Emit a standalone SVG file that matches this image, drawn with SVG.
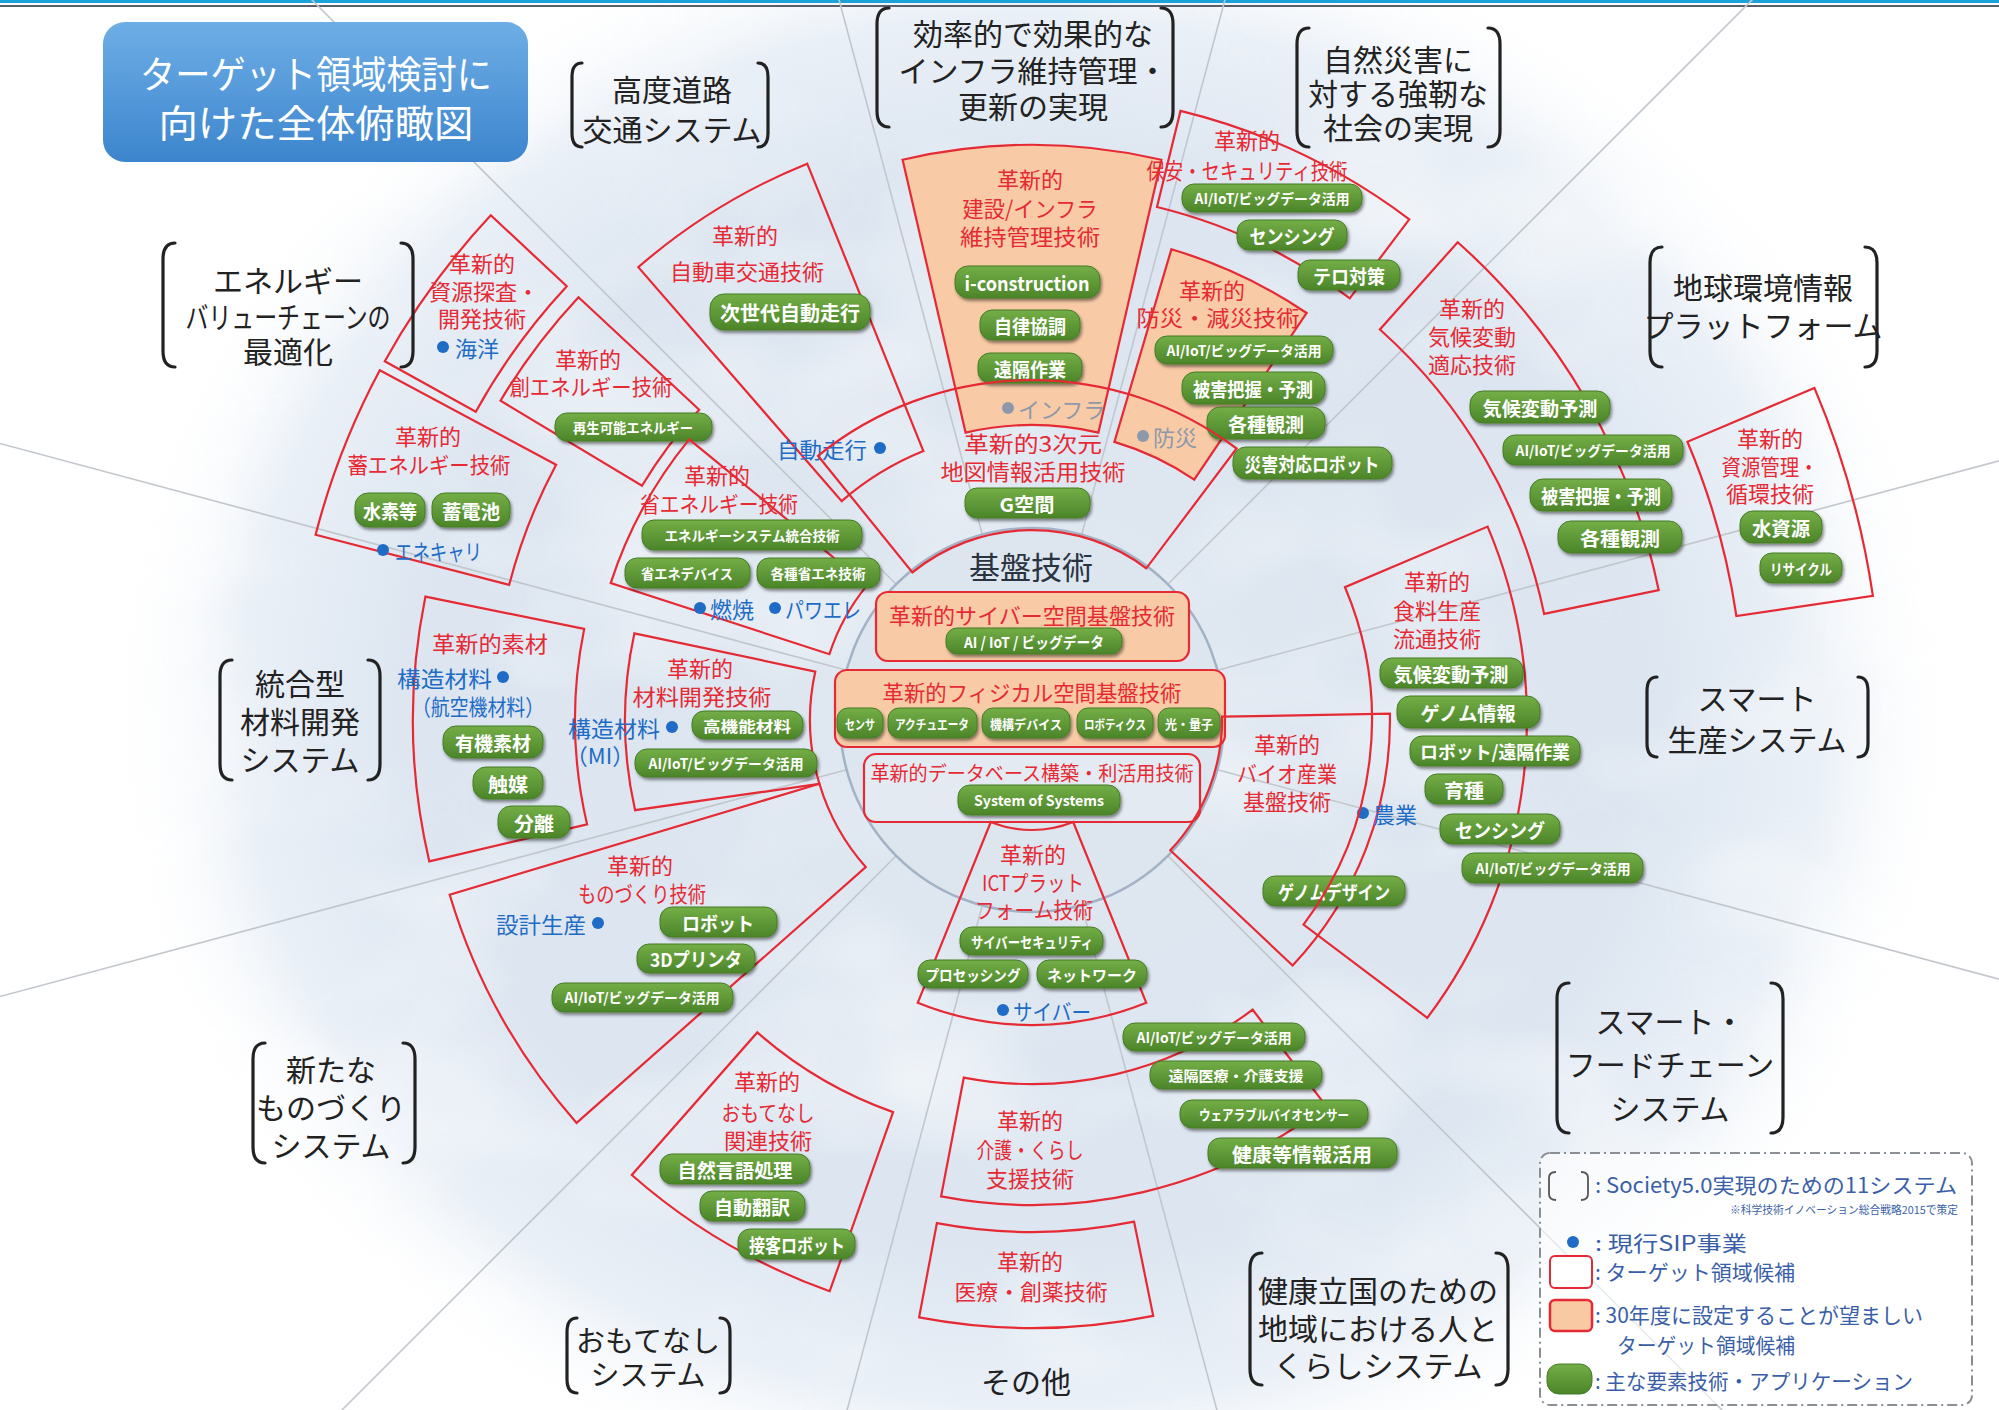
<svg xmlns="http://www.w3.org/2000/svg" width="1999" height="1410" viewBox="0 0 1999 1410">
<defs>
<style>
text{font-family:"Noto Sans CJK JP","Noto Sans",sans-serif;dominant-baseline:central}
.reg{fill:none;stroke:#e62a34;stroke-width:2.2}
.hot{fill:#f8cba6;stroke:#e62a34;stroke-width:2.2}
.rl{fill:#e62a34;font-size:22px;text-anchor:middle}
.cat{fill:#222;font-size:30px;text-anchor:middle}
.brk{fill:none;stroke:#222;stroke-width:3.2;stroke-linecap:round}
.pill rect{fill:url(#pillG);stroke:#467d27;stroke-width:1;filter:url(#sh)}
.pill text{fill:#fff;font-weight:bold;text-anchor:middle}
.sip{fill:#1e6cc6;font-size:22px}
.dot{fill:#1e6cc6}
.gry{fill:#8d99aa;font-size:22px}
.gdot{fill:#8d99aa}
.ray{stroke:#c2c7cd;stroke-width:1.6}
.lg{fill:#3a5fa8;font-size:21px}
.note{fill:#3a5fa8;font-size:11px;text-anchor:end}
</style>
<radialGradient id="haze" cx="0.5" cy="0.5" r="0.5">
<stop offset="0" stop-color="#e0e8f1"/>
<stop offset="0.65" stop-color="#dce5f0"/>
<stop offset="0.85" stop-color="#eaf0f7"/>
<stop offset="1" stop-color="#ffffff" stop-opacity="0"/>
</radialGradient>
<linearGradient id="pillG" x1="0" y1="0" x2="0" y2="1">
<stop offset="0" stop-color="#74ae47"/>
<stop offset="1" stop-color="#4b8529"/>
</linearGradient>
<linearGradient id="titleG" x1="0" y1="0" x2="0" y2="1">
<stop offset="0" stop-color="#6eaee6"/>
<stop offset="1" stop-color="#3c85cd"/>
</linearGradient>
<filter id="sh" x="-20%" y="-30%" width="140%" height="170%">
<feDropShadow dx="1.5" dy="2.5" stdDeviation="1.6" flood-color="#000" flood-opacity="0.45"/>
</filter>
<!-- mottled white clouds over the blue haze -->
<filter id="cloud" x="0" y="0" width="100%" height="100%">
<feTurbulence type="fractalNoise" baseFrequency="0.004 0.006" numOctaves="3" seed="7"/>
<feColorMatrix type="matrix" values="0 0 0 0 1  0 0 0 0 1  0 0 0 0 1  0 0 0 2.2 -1.0"/>
</filter>
</defs>

<!-- page background and soft blue haze -->
<rect width="1999" height="1410" fill="#ffffff"/>
<ellipse cx="1032" cy="710" rx="930" ry="820" fill="url(#haze)"/>
<rect width="1999" height="1410" filter="url(#cloud)" opacity="0.55"/>

<!-- top rule -->
<rect x="0" y="0" width="1999" height="3" fill="#1ba3d9"/>
<rect x="0" y="5" width="1999" height="2" fill="#5a5f66"/>

<!-- sector dividers -->
<g id="connectors">
<line class="ray" x1="1217.5" y1="769.7" x2="2480.9" y2="1108.2"/>
<line class="ray" x1="1167.8" y1="855.8" x2="2092.7" y2="1780.7"/>
<line class="ray" x1="1081.7" y1="905.5" x2="1420.2" y2="2168.9"/>
<line class="ray" x1="982.3" y1="905.5" x2="643.8" y2="2168.9"/>
<line class="ray" x1="896.2" y1="855.8" x2="-28.7" y2="1780.7"/>
<line class="ray" x1="846.5" y1="769.7" x2="-416.9" y2="1108.2"/>
<line class="ray" x1="846.5" y1="670.3" x2="-416.9" y2="331.8"/>
<line class="ray" x1="896.2" y1="584.2" x2="-28.7" y2="-340.7"/>
<line class="ray" x1="982.3" y1="534.5" x2="643.8" y2="-728.9"/>
<line class="ray" x1="1081.7" y1="534.5" x2="1420.2" y2="-728.9"/>
<line class="ray" x1="1167.8" y1="584.2" x2="2092.7" y2="-340.7"/>
<line class="ray" x1="1217.5" y1="670.3" x2="2480.9" y2="331.8"/>
</g>

<!-- title -->
<g id="title">
<rect x="103" y="22" width="425" height="140" rx="22" fill="url(#titleG)"/>
<text x="316" y="71" fill="#fff" font-size="38" text-anchor="middle" textLength="352" lengthAdjust="spacingAndGlyphs">ターゲット領域検討に</text>
<text x="316" y="120" fill="#fff" font-size="38" text-anchor="middle" textLength="315" lengthAdjust="spacingAndGlyphs">向けた全体俯瞰図</text>
</g>

<!-- priority (orange) regions drawn first -->
<g id="infra">
<path class="hot" d="M902.6,159.7 A575,575 0 0 1 1161.4,159.7 L1098.4,432.6 A295,295 0 0 0 965.6,432.6 Z"/>
<text class="rl" x="1030" y="178">革新的</text>
<text class="rl" x="1030" y="207" textLength="135" lengthAdjust="spacingAndGlyphs">建設/インフラ</text>
<text class="rl" x="1030" y="235" textLength="140" lengthAdjust="spacingAndGlyphs">維持管理技術</text>
<circle class="gdot" cx="1008" cy="408" r="6"/>
<text class="gry" x="1018" y="408">インフラ</text>
<g class="pill"><rect x="955" y="266" width="145" height="32" rx="13"/><text x="1027" y="282" font-size="20" textLength="125" lengthAdjust="spacingAndGlyphs">i-construction</text></g>
<g class="pill"><rect x="980" y="310" width="100" height="30" rx="12"/><text x="1030" y="325" font-size="19" textLength="72" lengthAdjust="spacingAndGlyphs">自律協調</text></g>
<g class="pill"><rect x="978" y="353" width="104" height="30" rx="12"/><text x="1030" y="368" font-size="19" textLength="72" lengthAdjust="spacingAndGlyphs">遠隔作業</text></g>
</g>

<g id="bosai">
<path class="hot" d="M1171.4,249.2 A491,491 0 0 1 1306.6,313.0 L1194.2,479.6 A290,290 0 0 0 1114.4,441.9 Z"/>
<text class="rl" x="1212" y="289">革新的</text>
<text class="rl" x="1218" y="316" textLength="163" lengthAdjust="spacingAndGlyphs">防災・減災技術</text>
<circle class="gdot" cx="1143" cy="436" r="6"/>
<text class="gry" x="1153" y="436">防災</text>
<g class="pill"><rect x="1155" y="336" width="178" height="28" rx="12"/><text x="1244" y="350" font-size="14" textLength="155" lengthAdjust="spacingAndGlyphs">AI/IoT/ビッグデータ活用</text></g>
<g class="pill"><rect x="1182" y="372" width="143" height="32" rx="13"/><text x="1253" y="388" font-size="19" textLength="120" lengthAdjust="spacingAndGlyphs">被害把握・予測</text></g>
<g class="pill"><rect x="1207" y="407" width="118" height="32" rx="13"/><text x="1266" y="423" font-size="19" textLength="76" lengthAdjust="spacingAndGlyphs">各種観測</text></g>
<g class="pill"><rect x="1233" y="447" width="159" height="32" rx="13"/><text x="1312" y="463" font-size="19" textLength="135" lengthAdjust="spacingAndGlyphs">災害対応ロボット</text></g>
</g>

<!-- core technologies -->
<g id="core">
<circle cx="1032" cy="720" r="192" fill="#dde5ef" stroke="#a3b2c4" stroke-width="2.5"/>
<text x="1031" y="565" fill="#2a3340" font-size="31" text-anchor="middle">基盤技術</text>
<rect class="hot" x="876" y="592" width="313" height="69" rx="12"/>
<text class="rl" x="1032" y="614" textLength="286" lengthAdjust="spacingAndGlyphs">革新的サイバー空間基盤技術</text>
<g class="pill"><rect x="946" y="628" width="176" height="26" rx="11"/><text x="1034" y="641" font-size="15" textLength="140" lengthAdjust="spacingAndGlyphs">AI / IoT / ビッグデータ</text></g>
<rect class="hot" x="835" y="670" width="390" height="77" rx="12"/>
<text class="rl" x="1032" y="691" textLength="299" lengthAdjust="spacingAndGlyphs">革新的フィジカル空間基盤技術</text>
<g class="pill"><rect x="837" y="708" width="46" height="30" rx="11"/><text x="860" y="723" font-size="13" textLength="30" lengthAdjust="spacingAndGlyphs">センサ</text></g>
<g class="pill"><rect x="888" y="708" width="89" height="30" rx="11"/><text x="932" y="723" font-size="13" textLength="74" lengthAdjust="spacingAndGlyphs">アクチュエータ</text></g>
<g class="pill"><rect x="982" y="708" width="88" height="30" rx="11"/><text x="1026" y="723" font-size="13" textLength="72" lengthAdjust="spacingAndGlyphs">機構デバイス</text></g>
<g class="pill"><rect x="1077" y="708" width="76" height="30" rx="11"/><text x="1115" y="723" font-size="13" textLength="62" lengthAdjust="spacingAndGlyphs">ロボティクス</text></g>
<g class="pill"><rect x="1158" y="708" width="62" height="30" rx="11"/><text x="1189" y="723" font-size="13" textLength="48" lengthAdjust="spacingAndGlyphs">光・量子</text></g>
<rect x="864" y="754" width="336" height="68" rx="12" fill="#e4eaf2" stroke="#e62a34" stroke-width="2.2"/>
<text class="rl" x="1032" y="772" style="font-size:20px" textLength="323" lengthAdjust="spacingAndGlyphs">革新的データベース構築・利活用技術</text>
<g class="pill"><rect x="958" y="785" width="162" height="30" rx="12"/><text x="1039" y="800" font-size="14" textLength="130" lengthAdjust="spacingAndGlyphs">System of Systems</text></g>
</g>

<!-- target regions -->
<g id="shigen-tansa">
<path class="reg" d="M384.8,361.2 A740,740 0 0 1 490.8,215.3 L566.8,286.2 A636,636 0 0 0 475.8,411.7 Z"/>
<text class="rl" x="482" y="262">革新的</text>
<text class="rl" x="484" y="290">資源探査・</text>
<text class="rl" x="482" y="317">開発技術</text>
<circle class="dot" cx="443" cy="347" r="6"/>
<text class="sip" x="455" y="347">海洋</text>
</g>

<g id="chiku-ene">
<path class="reg" d="M315.6,534.7 A740,740 0 0 1 379.8,370.3 L556.1,464.8 A540,540 0 0 0 509.2,584.8 Z"/>
<text class="rl" x="428" y="435">革新的</text>
<text class="rl" x="429" y="463" textLength="163" lengthAdjust="spacingAndGlyphs">蓄エネルギー技術</text>
<g class="pill"><rect x="355" y="493" width="70" height="34" rx="13"/><text x="390" y="510" font-size="19" textLength="54" lengthAdjust="spacingAndGlyphs">水素等</text></g>
<g class="pill"><rect x="432" y="493" width="78" height="34" rx="13"/><text x="471" y="510" font-size="19" textLength="58" lengthAdjust="spacingAndGlyphs">蓄電池</text></g>
<circle class="dot" cx="383" cy="550" r="6"/>
<text class="sip" x="395" y="550" textLength="87" lengthAdjust="spacingAndGlyphs">エネキャリ</text>
</g>

<g id="so-ene">
<path class="reg" d="M500.5,400.7 A620,620 0 0 1 578.5,297.2 L699.2,409.7 A455,455 0 0 0 642.0,485.7 Z"/>
<text class="rl" x="588" y="358">革新的</text>
<text class="rl" x="591" y="385" textLength="163" lengthAdjust="spacingAndGlyphs">創エネルギー技術</text>
<g class="pill"><rect x="555" y="413" width="157" height="28" rx="12"/><text x="633" y="427" font-size="14" textLength="120" lengthAdjust="spacingAndGlyphs">再生可能エネルギー</text></g>
</g>

<g id="sho-ene">
<path class="reg" d="M610.7,583.1 A443,443 0 0 1 689.2,439.4 L867.2,585.1 A213,213 0 0 0 829.4,654.2 Z"/>
<text class="rl" x="717" y="474">革新的</text>
<text class="rl" x="719" y="502" textLength="158" lengthAdjust="spacingAndGlyphs">省エネルギー技術</text>
<g class="pill"><rect x="642" y="520" width="220" height="30" rx="12"/><text x="752" y="535" font-size="14" textLength="175" lengthAdjust="spacingAndGlyphs">エネルギーシステム統合技術</text></g>
<g class="pill"><rect x="625" y="558" width="125" height="30" rx="12"/><text x="687" y="573" font-size="14" textLength="92" lengthAdjust="spacingAndGlyphs">省エネデバイス</text></g>
<g class="pill"><rect x="757" y="558" width="123" height="30" rx="12"/><text x="818" y="573" font-size="14" textLength="95" lengthAdjust="spacingAndGlyphs">各種省エネ技術</text></g>
<circle class="dot" cx="700" cy="608" r="6"/>
<text class="sip" x="710" y="608">燃焼</text>
<circle class="dot" cx="775" cy="608" r="6"/>
<text class="sip" x="785" y="608" textLength="76" lengthAdjust="spacingAndGlyphs">パワエレ</text>
</g>

<g id="jidosha">
<path class="reg" d="M638.3,267.2 A600,600 0 0 1 807.2,163.7 L923.4,451.1 A290,290 0 0 0 841.7,501.1 Z"/>
<text class="rl" x="745" y="234">革新的</text>
<text class="rl" x="747" y="270">自動車交通技術</text>
<g class="pill"><rect x="710" y="294" width="160" height="36" rx="14"/><text x="790" y="312" font-size="20" textLength="140" lengthAdjust="spacingAndGlyphs">次世代自動走行</text></g>
<text class="sip" x="777" y="448" textLength="90" lengthAdjust="spacingAndGlyphs">自動走行</text>
<circle class="dot" cx="880" cy="448" r="6"/>
</g>

<g id="chizu3d">
<path class="reg" d="M818.0,455.8 A340,340 0 0 1 1236.6,448.5 L1146.3,568.3 A190,190 0 0 0 912.4,572.4 Z"/>
<text class="rl" x="1033" y="442" textLength="138" lengthAdjust="spacingAndGlyphs">革新的3次元</text>
<text class="rl" x="1033" y="470" textLength="185" lengthAdjust="spacingAndGlyphs">地図情報活用技術</text>
<g class="pill"><rect x="965" y="488" width="125" height="30" rx="12"/><text x="1027" y="503" font-size="19" textLength="55" lengthAdjust="spacingAndGlyphs">G空間</text></g>
</g>

<g id="hoan">
<path class="reg" d="M1180.5,110.9 A627,627 0 0 1 1409.3,219.3 L1349.8,298.3 A528,528 0 0 0 1157.0,207.0 Z"/>
<text class="rl" x="1247" y="139">革新的</text>
<text class="rl" x="1247" y="169" textLength="201" lengthAdjust="spacingAndGlyphs">保安・セキュリティ技術</text>
<g class="pill"><rect x="1182" y="184" width="180" height="28" rx="12"/><text x="1272" y="198" font-size="14" textLength="155" lengthAdjust="spacingAndGlyphs">AI/IoT/ビッグデータ活用</text></g>
<g class="pill"><rect x="1237" y="220" width="110" height="30" rx="12"/><text x="1292" y="235" font-size="19" textLength="85" lengthAdjust="spacingAndGlyphs">センシング</text></g>
<g class="pill"><rect x="1298" y="260" width="102" height="30" rx="12"/><text x="1349" y="275" font-size="19" textLength="72" lengthAdjust="spacingAndGlyphs">テロ対策</text></g>
</g>

<g id="kiko">
<path class="reg" d="M1457.7,242.2 A640,640 0 0 1 1658.7,590.2 L1544.1,613.9 A523,523 0 0 0 1379.9,329.5 Z"/>
<text class="rl" x="1472" y="307">革新的</text>
<text class="rl" x="1472" y="335">気候変動</text>
<text class="rl" x="1472" y="363">適応技術</text>
<g class="pill"><rect x="1470" y="391" width="140" height="32" rx="13"/><text x="1540" y="407" font-size="19" textLength="115" lengthAdjust="spacingAndGlyphs">気候変動予測</text></g>
<g class="pill"><rect x="1503" y="435" width="180" height="30" rx="12"/><text x="1593" y="450" font-size="14" textLength="155" lengthAdjust="spacingAndGlyphs">AI/IoT/ビッグデータ活用</text></g>
<g class="pill"><rect x="1530" y="479" width="142" height="32" rx="13"/><text x="1601" y="495" font-size="19" textLength="120" lengthAdjust="spacingAndGlyphs">被害把握・予測</text></g>
<g class="pill"><rect x="1558" y="521" width="124" height="32" rx="13"/><text x="1620" y="537" font-size="19" textLength="80" lengthAdjust="spacingAndGlyphs">各種観測</text></g>
</g>

<g id="shigen-kanri">
<path class="reg" d="M1814.4,387.9 A850,850 0 0 1 1872.9,595.8 L1736.4,616.0 A712,712 0 0 0 1687.4,441.8 Z"/>
<text class="rl" x="1770" y="437">革新的</text>
<text class="rl" x="1770" y="465" textLength="97" lengthAdjust="spacingAndGlyphs">資源管理・</text>
<text class="rl" x="1770" y="492">循環技術</text>
<g class="pill"><rect x="1740" y="511" width="82" height="32" rx="13"/><text x="1781" y="527" font-size="19" textLength="58" lengthAdjust="spacingAndGlyphs">水資源</text></g>
<g class="pill"><rect x="1760" y="553" width="82" height="30" rx="12"/><text x="1801" y="568" font-size="15" textLength="62" lengthAdjust="spacingAndGlyphs">リサイクル</text></g>
</g>

<g id="bio">
<path class="reg" d="M1389.9,713.7 A358,358 0 0 1 1292.6,965.5 L1170.3,850.3 A190,190 0 0 0 1222.0,716.7 Z"/>
<text class="rl" x="1287" y="743">革新的</text>
<text class="rl" x="1287" y="772" textLength="100" lengthAdjust="spacingAndGlyphs">バイオ産業</text>
<text class="rl" x="1287" y="800">基盤技術</text>
<circle class="dot" cx="1363" cy="813" r="6"/>
<text class="sip" x="1373" y="813">農業</text>
<g class="pill"><rect x="1263" y="876" width="142" height="30" rx="12"/><text x="1334" y="891" font-size="19" textLength="112" lengthAdjust="spacingAndGlyphs">ゲノムデザイン</text></g>
</g>

<g id="shokuryo">
<path class="reg" d="M1487.6,526.6 A495,495 0 0 1 1427.3,1017.9 L1303.5,924.6 A340,340 0 0 0 1345.0,587.2 Z"/>
<text class="rl" x="1437" y="580">革新的</text>
<text class="rl" x="1437" y="609">食料生産</text>
<text class="rl" x="1437" y="637">流通技術</text>
<g class="pill"><rect x="1380" y="658" width="143" height="30" rx="12"/><text x="1451" y="673" font-size="19" textLength="115" lengthAdjust="spacingAndGlyphs">気候変動予測</text></g>
<g class="pill"><rect x="1397" y="696" width="143" height="32" rx="13"/><text x="1468" y="712" font-size="19" textLength="95" lengthAdjust="spacingAndGlyphs">ゲノム情報</text></g>
<g class="pill"><rect x="1410" y="736" width="170" height="30" rx="12"/><text x="1495" y="751" font-size="18" textLength="150" lengthAdjust="spacingAndGlyphs">ロボット/遠隔作業</text></g>
<g class="pill"><rect x="1425" y="774" width="78" height="30" rx="12"/><text x="1464" y="789" font-size="19" textLength="40" lengthAdjust="spacingAndGlyphs">育種</text></g>
<g class="pill"><rect x="1440" y="814" width="120" height="30" rx="12"/><text x="1500" y="829" font-size="19" textLength="90" lengthAdjust="spacingAndGlyphs">センシング</text></g>
<g class="pill"><rect x="1462" y="853" width="181" height="30" rx="12"/><text x="1553" y="868" font-size="14" textLength="155" lengthAdjust="spacingAndGlyphs">AI/IoT/ビッグデータ活用</text></g>
</g>

<g id="kaigo">
<path class="reg" d="M1325.9,1105.8 A485,485 0 0 1 941.1,1196.4 L963.8,1077.6 A364,364 0 0 0 1252.6,1009.6 Z"/>
<text class="rl" x="1030" y="1119">革新的</text>
<text class="rl" x="1030" y="1148" textLength="107" lengthAdjust="spacingAndGlyphs">介護・くらし</text>
<text class="rl" x="1030" y="1177">支援技術</text>
<g class="pill"><rect x="1123" y="1023" width="182" height="28" rx="12"/><text x="1214" y="1037" font-size="14" textLength="155" lengthAdjust="spacingAndGlyphs">AI/IoT/ビッグデータ活用</text></g>
<g class="pill"><rect x="1150" y="1061" width="172" height="28" rx="12"/><text x="1236" y="1075" font-size="14" textLength="135" lengthAdjust="spacingAndGlyphs">遠隔医療・介護支援</text></g>
<g class="pill"><rect x="1180" y="1100" width="188" height="28" rx="12"/><text x="1274" y="1114" font-size="14" textLength="150" lengthAdjust="spacingAndGlyphs">ウェアラブルバイオセンサー</text></g>
<g class="pill"><rect x="1208" y="1138" width="189" height="30" rx="12"/><text x="1302" y="1153" font-size="19" textLength="140" lengthAdjust="spacingAndGlyphs">健康等情報活用</text></g>
</g>

<g id="iryo">
<path class="reg" d="M1153.2,1315.8 A608,608 0 0 1 919.1,1317.4 L936.9,1223.1 A512,512 0 0 0 1134.1,1221.7 Z"/>
<text class="rl" x="1030" y="1260">革新的</text>
<text class="rl" x="1031" y="1290" textLength="153" lengthAdjust="spacingAndGlyphs">医療・創薬技術</text>
</g>

<g id="ict">
<path class="reg" d="M1146.3,1002.8 A305,305 0 0 1 917.7,1002.8 L990.8,822.0 A110,110 0 0 0 1073.2,822.0 Z"/>
<text class="rl" x="1033" y="853">革新的</text>
<text class="rl" x="1033" y="881" textLength="102" lengthAdjust="spacingAndGlyphs">ICTプラット</text>
<text class="rl" x="1034" y="908" textLength="118" lengthAdjust="spacingAndGlyphs">フォーム技術</text>
<g class="pill"><rect x="960" y="927" width="143" height="28" rx="12"/><text x="1032" y="941" font-size="15" textLength="122" lengthAdjust="spacingAndGlyphs">サイバーセキュリティ</text></g>
<g class="pill"><rect x="918" y="960" width="110" height="28" rx="12"/><text x="973" y="974" font-size="15" textLength="95" lengthAdjust="spacingAndGlyphs">プロセッシング</text></g>
<g class="pill"><rect x="1037" y="960" width="110" height="28" rx="12"/><text x="1092" y="974" font-size="15" textLength="90" lengthAdjust="spacingAndGlyphs">ネットワーク</text></g>
<circle class="dot" cx="1003" cy="1010" r="6"/>
<text class="sip" x="1013" y="1010" textLength="78" lengthAdjust="spacingAndGlyphs">サイバー</text>
</g>

<g id="omotenashi">
<path class="reg" d="M829.7,1291.2 A606,606 0 0 1 631.8,1175.0 L757.3,1032.4 A416,416 0 0 0 893.1,1112.1 Z"/>
<text class="rl" x="767" y="1080">革新的</text>
<text class="rl" x="768" y="1111" textLength="93" lengthAdjust="spacingAndGlyphs">おもてなし</text>
<text class="rl" x="768" y="1139">関連技術</text>
<g class="pill"><rect x="660" y="1154" width="150" height="30" rx="12"/><text x="735" y="1169" font-size="19" textLength="115" lengthAdjust="spacingAndGlyphs">自然言語処理</text></g>
<g class="pill"><rect x="700" y="1191" width="105" height="30" rx="12"/><text x="752" y="1206" font-size="19" textLength="76" lengthAdjust="spacingAndGlyphs">自動翻訳</text></g>
<g class="pill"><rect x="738" y="1229" width="117" height="30" rx="12"/><text x="797" y="1244" font-size="19" textLength="96" lengthAdjust="spacingAndGlyphs">接客ロボット</text></g>
</g>

<g id="monozukuri">
<path class="reg" d="M576.6,1122.9 A608,608 0 0 1 449.7,894.7 L819.4,783.8 A222,222 0 0 0 865.7,867.1 Z"/>
<text class="rl" x="640" y="864">革新的</text>
<text class="rl" x="642" y="892" textLength="128" lengthAdjust="spacingAndGlyphs">ものづくり技術</text>
<text class="sip" x="496" y="923" textLength="90" lengthAdjust="spacingAndGlyphs">設計生産</text>
<circle class="dot" cx="598" cy="923" r="6"/>
<g class="pill"><rect x="660" y="907" width="117" height="30" rx="12"/><text x="718" y="922" font-size="19" textLength="72" lengthAdjust="spacingAndGlyphs">ロボット</text></g>
<g class="pill"><rect x="637" y="944" width="118" height="29" rx="12"/><text x="696" y="958" font-size="19" textLength="92" lengthAdjust="spacingAndGlyphs">3Dプリンタ</text></g>
<g class="pill"><rect x="552" y="983" width="181" height="29" rx="12"/><text x="642" y="997" font-size="14" textLength="155" lengthAdjust="spacingAndGlyphs">AI/IoT/ビッグデータ活用</text></g>
</g>

<g id="sozai">
<path class="reg" d="M429.3,861.4 A619,619 0 0 1 425.4,596.6 L584.2,628.9 A457,457 0 0 0 587.1,824.4 Z"/>
<text class="rl" x="490" y="642" textLength="116" lengthAdjust="spacingAndGlyphs">革新的素材</text>
<text class="sip" x="397" y="677" textLength="95" lengthAdjust="spacingAndGlyphs">構造材料</text>
<circle class="dot" cx="503" cy="677" r="6"/>
<text class="sip" x="478" y="705" text-anchor="middle" textLength="132" lengthAdjust="spacingAndGlyphs">（航空機材料）</text>
<g class="pill"><rect x="443" y="726" width="100" height="32" rx="13"/><text x="493" y="742" font-size="19" textLength="76" lengthAdjust="spacingAndGlyphs">有機素材</text></g>
<g class="pill"><rect x="473" y="767" width="70" height="32" rx="13"/><text x="508" y="783" font-size="19" textLength="40" lengthAdjust="spacingAndGlyphs">触媒</text></g>
<g class="pill"><rect x="498" y="806" width="72" height="32" rx="13"/><text x="534" y="822" font-size="19" textLength="40" lengthAdjust="spacingAndGlyphs">分離</text></g>
</g>

<g id="zairyo">
<path class="reg" d="M634.4,633.3 L815.3,671.6 A222,222 0 0 0 819.4,783.8 L635.1,810.2 A407,407 0 0 1 634.4,633.3 Z"/>
<text class="rl" x="700" y="667">革新的</text>
<text class="rl" x="702" y="695" textLength="139" lengthAdjust="spacingAndGlyphs">材料開発技術</text>
<text class="sip" x="568" y="727" textLength="92" lengthAdjust="spacingAndGlyphs">構造材料</text>
<circle class="dot" cx="672" cy="727" r="6"/>
<text class="sip" x="600" y="754" text-anchor="middle">（MI）</text>
<g class="pill"><rect x="692" y="711" width="111" height="28" rx="12"/><text x="747" y="725" font-size="15" textLength="88" lengthAdjust="spacingAndGlyphs">高機能材料</text></g>
<g class="pill"><rect x="635" y="749" width="182" height="28" rx="12"/><text x="726" y="763" font-size="14" textLength="155" lengthAdjust="spacingAndGlyphs">AI/IoT/ビッグデータ活用</text></g>
</g>

<!-- the eleven systems -->
<g id="sys-road">
<path class="brk" d="M582,63 Q572,63 572,77 L572,133 Q572,147 582,147"/>
<path class="brk" d="M758,63 Q768,63 768,77 L768,133 Q768,147 758,147"/>
<text class="cat" x="672" y="88">高度道路</text>
<text class="cat" x="672" y="128">交通システム</text>
</g>
<g id="sys-infra">
<path class="brk" d="M889,8 Q877,8 877,24 L877,111 Q877,127 889,127"/>
<path class="brk" d="M1161,8 Q1173,8 1173,24 L1173,111 Q1173,127 1161,127"/>
<text class="cat" x="1033" y="32">効率的で効果的な</text>
<text class="cat" x="1033" y="69">インフラ維持管理・</text>
<text class="cat" x="1033" y="105">更新の実現</text>
</g>
<g id="sys-disaster">
<path class="brk" d="M1309,28 Q1297,28 1297,44 L1297,131 Q1297,147 1309,147"/>
<path class="brk" d="M1488,28 Q1500,28 1500,44 L1500,131 Q1500,147 1488,147"/>
<text class="cat" x="1398" y="58">自然災害に</text>
<text class="cat" x="1398" y="92">対する強靭な</text>
<text class="cat" x="1398" y="126">社会の実現</text>
</g>
<g id="sys-earth">
<path class="brk" d="M1662,247 Q1650,247 1650,263 L1650,351 Q1650,367 1662,367"/>
<path class="brk" d="M1865,247 Q1877,247 1877,263 L1877,351 Q1877,367 1865,367"/>
<text class="cat" x="1763" y="286">地球環境情報</text>
<text class="cat" x="1763" y="324">プラットフォーム</text>
</g>
<g id="sys-smartprod">
<path class="brk" d="M1657,677 Q1647,677 1647,691 L1647,743 Q1647,757 1657,757"/>
<path class="brk" d="M1858,677 Q1868,677 1868,691 L1868,743 Q1868,757 1858,757"/>
<text class="cat" x="1757" y="697">スマート</text>
<text class="cat" x="1757" y="738">生産システム</text>
</g>
<g id="sys-food">
<path class="brk" d="M1569,983 Q1557,983 1557,999 L1557,1117 Q1557,1133 1569,1133"/>
<path class="brk" d="M1771,983 Q1783,983 1783,999 L1783,1117 Q1783,1133 1771,1133"/>
<text class="cat" x="1670" y="1020">スマート・</text>
<text class="cat" x="1670" y="1063">フードチェーン</text>
<text class="cat" x="1670" y="1107">システム</text>
</g>
<g id="sys-health">
<path class="brk" d="M1262,1253 Q1250,1253 1250,1269 L1250,1369 Q1250,1385 1262,1385"/>
<path class="brk" d="M1496,1253 Q1508,1253 1508,1269 L1508,1369 Q1508,1385 1496,1385"/>
<text class="cat" x="1378" y="1289">健康立国のための</text>
<text class="cat" x="1378" y="1327">地域における人と</text>
<text class="cat" x="1378" y="1364">くらしシステム</text>
</g>
<g id="sys-other">
<text class="cat" x="1026" y="1380">その他</text>
</g>
<g id="sys-omotenashi">
<path class="brk" d="M577,1318 Q567,1318 567,1332 L567,1379 Q567,1393 577,1393"/>
<path class="brk" d="M720,1318 Q730,1318 730,1332 L730,1379 Q730,1393 720,1393"/>
<text class="cat" x="648" y="1339" style="font-size:29px">おもてなし</text>
<text class="cat" x="648" y="1373" style="font-size:29px">システム</text>
</g>
<g id="sys-monozukuri">
<path class="brk" d="M265,1043 Q253,1043 253,1059 L253,1147 Q253,1163 265,1163"/>
<path class="brk" d="M403,1043 Q415,1043 415,1059 L415,1147 Q415,1163 403,1163"/>
<text class="cat" x="331" y="1068">新たな</text>
<text class="cat" x="331" y="1106">ものづくり</text>
<text class="cat" x="331" y="1144">システム</text>
</g>
<g id="sys-material">
<path class="brk" d="M232,660 Q220,660 220,676 L220,764 Q220,780 232,780"/>
<path class="brk" d="M368,660 Q380,660 380,676 L380,764 Q380,780 368,780"/>
<text class="cat" x="300" y="682">統合型</text>
<text class="cat" x="300" y="720">材料開発</text>
<text class="cat" x="300" y="758">システム</text>
</g>
<g id="sys-energy">
<path class="brk" d="M175,243 Q163,243 163,259 L163,351 Q163,367 175,367"/>
<path class="brk" d="M401,243 Q413,243 413,259 L413,351 Q413,367 401,367"/>
<text class="cat" x="288" y="279">エネルギー</text>
<text class="cat" x="288" y="315" textLength="205" lengthAdjust="spacingAndGlyphs">バリューチェーンの</text>
<text class="cat" x="288" y="350">最適化</text>
</g>

<!-- legend -->
<g id="legend">
<rect x="1540" y="1153" width="432" height="252" rx="10" fill="#ffffff" fill-opacity="0.6" stroke="#8a8f96" stroke-width="2" stroke-dasharray="10 4 2 4"/>
<path d="M1556,1172 Q1549,1172 1549,1178 L1549,1194 Q1549,1200 1556,1200" fill="none" stroke="#555" stroke-width="1.8"/>
<path d="M1581,1172 Q1588,1172 1588,1178 L1588,1194 Q1588,1200 1581,1200" fill="none" stroke="#555" stroke-width="1.8"/>
<text class="lg" x="1595" y="1184" textLength="362" lengthAdjust="spacingAndGlyphs">: Society5.0実現のための11システム</text>
<text class="note" x="1958" y="1209" textLength="228" lengthAdjust="spacingAndGlyphs">※科学技術イノベーション総合戦略2015で策定</text>
<circle cx="1573" cy="1242" r="6" fill="#1e6cc6"/>
<text class="lg" x="1595" y="1242" textLength="152" lengthAdjust="spacingAndGlyphs">: 現行SIP事業</text>
<rect x="1550" y="1256" width="42" height="32" rx="5" fill="#fff" stroke="#e62a34" stroke-width="2"/>
<text class="lg" x="1595" y="1271" textLength="200" lengthAdjust="spacingAndGlyphs">: ターゲット領域候補</text>
<rect x="1550" y="1300" width="42" height="31" rx="5" fill="#f8c9a2" stroke="#e62a34" stroke-width="2.5"/>
<text class="lg" x="1595" y="1314" textLength="328" lengthAdjust="spacingAndGlyphs">: 30年度に設定することが望ましい</text>
<text class="lg" x="1617" y="1344" textLength="178" lengthAdjust="spacingAndGlyphs">ターゲット領域候補</text>
<rect x="1547" y="1364" width="45" height="30" rx="12" fill="url(#pillG)" stroke="#467d27"/>
<text class="lg" x="1595" y="1380" textLength="318" lengthAdjust="spacingAndGlyphs">: 主な要素技術・アプリケーション</text>
</g>
</svg>
